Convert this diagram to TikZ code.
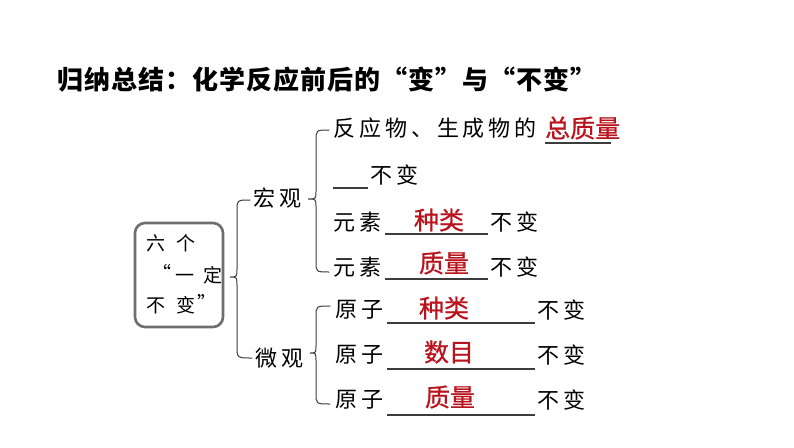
\documentclass[tikz,border=0pt]{standalone}
\usepackage{fontspec}
\setmainfont{Noto Sans CJK SC}
\newfontfamily\bodyfont[LetterSpace=18]{Noto Sans CJK SC}
\newfontfamily\titlefont[LetterSpace=4]{Noto Sans CJK SC}
\newfontfamily\redfont[FakeBold=0.8]{Noto Sans CJK SC}
\definecolor{ansred}{RGB}{185,20,30}
\definecolor{linegray}{RGB}{60,60,60}
\definecolor{boxgray}{RGB}{110,110,110}
\begin{document}
\begin{tikzpicture}[x=1pt,y=-1pt,
  txt/.style={font=\bodyfont\fontsize{22}{22}\selectfont, inner sep=0, anchor=west, text=black},
  boxtxt/.style={font=\fontsize{19}{19}\selectfont, inner sep=0, text=black},
  ans/.style={font=\redfont\fontsize{25}{25}\selectfont, inner sep=0, text=ansred},
  uline/.style={draw=linegray, line width=1.3pt},
  brace/.style={draw=linegray, line width=1pt, line cap=round},
]
\useasboundingbox (0,0) rectangle (794,447);
% title
\node[anchor=west, inner sep=0, font=\titlefont\bfseries\fontsize{26}{26}\selectfont] (title) at (57,80) {归纳总结：化学反应前后的“变”与“不变”};
% box
\node[draw=boxgray, line width=2.6pt, rounded corners=10pt, minimum width=88pt, minimum height=104pt] (box) at (179,275) {};
\node[boxtxt, anchor=west] (b1) at (146,243) {六\hspace{11pt}个};
\node[boxtxt] (b2q) at (162,272) {“};
\node[boxtxt, anchor=west] (b2) at (175,275) {一\hspace{9pt}定};
\node[boxtxt, anchor=west] (b3) at (146,305) {不\hspace{11pt}变};
\node[boxtxt] (b3q) at (207,302) {”};
% level 2
\node[txt] (hong) at (253,198) {宏观};
\node[txt] (wei) at (255,358) {微观};
% big brace
\coordinate (bt) at (250,200); \coordinate (bm) at (230,277); \coordinate (bb) at (252,358);
\draw[brace] (bt) .. controls (237,200) .. (237,212) -- (237,268) .. controls (237,277) .. (bm)
  .. controls (237,277) .. (237,286) -- (237,346) .. controls (237,358) .. (bb);
% brace 2
\coordinate (t2) at (329,130); \coordinate (m2) at (308,199); \coordinate (e2) at (329,272);
\draw[brace] (t2) .. controls (316,130) .. (316,141) -- (316,191) .. controls (316,199) .. (m2)
  .. controls (316,199) .. (316,207) -- (316,261) .. controls (316,272) .. (e2);
% brace 3
\coordinate (t3) at (330,306); \coordinate (m3) at (310,353); \coordinate (e3) at (330,404);
\draw[brace] (t3) .. controls (316,306) .. (316,317) -- (316,345) .. controls (316,353) .. (m3)
  .. controls (316,353) .. (316,361) -- (316,393) .. controls (316,404) .. (e3);
% row 1
\node[txt] (r1) at (333,128) {反应物、生成物的};
\node[ans, anchor=west] (a1) at (545,128) {总质量};
\draw[uline] (545,143) coordinate (u1a) -- (611,143) coordinate (u1b);
% row 2
\draw[uline] (333,188) coordinate (u2a) -- (368,188) coordinate (u2b);
\node[txt] (r2) at (370,175) {不变};
% row 3
\node[txt] (r3) at (333,222) {元素};
\draw[uline] (385,234) coordinate (u3a) -- (488,234) coordinate (u3b);
\node[ans] (a3) at (439,220) {种类};
\node[txt] (r3b) at (490,222) {不变};
% row 4
\node[txt] (r4) at (333,267) {元素};
\draw[uline] (385,279) coordinate (u4a) -- (488,279) coordinate (u4b);
\node[ans] (a4) at (444,263) {质量};
\node[txt] (r4b) at (490,267) {不变};
% row 5
\node[txt] (r5) at (335,310) {原子};
\draw[uline] (387,323) coordinate (u5a) -- (535,323) coordinate (u5b);
\node[ans] (a5) at (444,308) {种类};
\node[txt] (r5b) at (537,310) {不变};
% row 6
\node[txt] (r6) at (335,355) {原子};
\draw[uline] (387,369) coordinate (u6a) -- (535,369) coordinate (u6b);
\node[ans] (a6) at (449,352) {数目};
\node[txt] (r6b) at (537,355) {不变};
% row 7
\node[txt] (r7) at (335,400) {原子};
\draw[uline] (387,415) coordinate (u7a) -- (535,415) coordinate (u7b);
\node[ans] (a7) at (450,397) {质量};
\node[txt] (r7b) at (537,400) {不变};
\end{tikzpicture}
\end{document}
